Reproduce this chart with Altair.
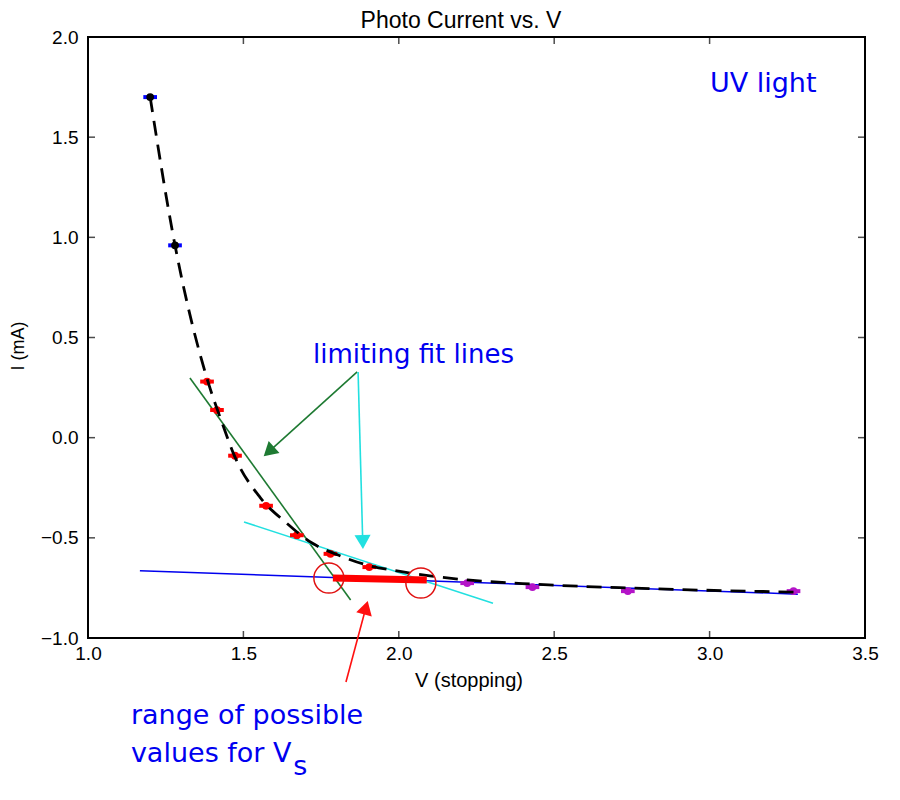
import altair as alt
import pandas as pd

# ---------------- data ----------------
blue_V = [1.20, 1.28]
blue_I = [1.70, 0.96]
red_V = [1.383, 1.415, 1.473, 1.573, 1.672, 1.780, 1.905]
red_I = [0.28, 0.138, -0.09, -0.34, -0.487, -0.58, -0.646]
purple_V = [2.22, 2.43, 2.737, 3.27]
purple_I = [-0.726, -0.746, -0.766, -0.766]
V_err = 0.022

curve_V = [1.20, 1.28, 1.39, 1.43, 1.473, 1.553, 1.634, 1.721, 1.805, 1.898, 2.004, 2.10, 2.22, 2.43, 2.75, 3.27]
curve_I = [1.70, 0.96, 0.26, 0.08, -0.097, -0.297, -0.42, -0.526, -0.586, -0.636, -0.668, -0.69, -0.71, -0.731, -0.751, -0.771]

green_fit_V = [1.328, 1.845]
green_fit_I = [0.298, -0.81]
cyan_fit_V = [1.502, 2.303]
cyan_fit_I = [-0.421, -0.826]
blue_fit_V = [1.167, 3.284]
blue_fit_I = [-0.664, -0.781]
range_V = [1.788, 2.09]
range_I = [-0.701, -0.711]
circle_V = [1.775, 2.071]
circle_I = [-0.701, -0.726]

# arrows: start point, head point, head angle
arrow_names = ["green", "cyan", "red"]
arrow_colors = ["#1e7a32", "#22e0e0", "#ff1010"]
arrow_start_V = [1.866, 1.869, 1.830]
arrow_start_I = [0.328, 0.328, -1.220]
arrow_head_V = [1.582, 1.884, 1.894]
arrow_head_I = [-0.070, -0.521, -0.849]
arrow_angle = [227.9, 178.4, 15.4]

x_ticks = [1.0, 1.5, 2.0, 2.5, 3.0, 3.5]
y_ticks = [-1.0, -0.5, 0.0, 0.5, 1.0, 1.5, 2.0]

W, H = 777, 601

xs = alt.Scale(domain=[1.0, 3.5], nice=False, zero=False)
ys = alt.Scale(domain=[-1.0, 2.0], nice=False, zero=False)
x_axis = alt.Axis(values=x_ticks, format=".1f", ticks=False, domain=False, grid=False,
                  labelFont="Liberation Sans", labelFontSize=19, labelColor="black",
                  labelPadding=6, labelFlush=False, labelOverlap=False, title=None)
y_axis = alt.Axis(values=y_ticks, format=".1f", ticks=False, domain=False, grid=False,
                  labelFont="Liberation Sans", labelFontSize=19, labelColor="black",
                  labelPadding=10, labelFlush=False, labelOverlap=False, title=None)


def X(f="x"):
    return alt.X(f"{f}:Q", scale=xs, axis=x_axis)


def Y(f="y"):
    return alt.Y(f"{f}:Q", scale=ys, axis=y_axis)


layers = []

# tick marks (inward, all four sides)
dxt = pd.DataFrame({"x": x_ticks})
dyt = pd.DataFrame({"y": y_ticks})
layers.append(alt.Chart(dxt).mark_tick(orient="vertical", size=7, thickness=1.5, color="black")
              .encode(x=X(), y=alt.value(H - 3.5)))
layers.append(alt.Chart(dxt).mark_tick(orient="vertical", size=7, thickness=1.5, color="black")
              .encode(x=X(), y=alt.value(3.5)))
layers.append(alt.Chart(dyt).mark_tick(orient="horizontal", size=7, thickness=1.5, color="black")
              .encode(y=Y(), x=alt.value(3.5)))
layers.append(alt.Chart(dyt).mark_tick(orient="horizontal", size=7, thickness=1.5, color="black")
              .encode(y=Y(), x=alt.value(W - 3.5)))

# fit lines
def seg(vs, is_, color, width):
    d = pd.DataFrame({"x": vs, "y": is_})
    return alt.Chart(d).mark_line(color=color, strokeWidth=width, strokeCap="butt").encode(x=X(), y=Y())

layers.append(seg(blue_fit_V, blue_fit_I, "#0000ee", 1.5))
layers.append(seg(green_fit_V, green_fit_I, "#1e7a32", 1.6))
layers.append(seg(cyan_fit_V, cyan_fit_I, "#22e0e0", 1.6))

# error bars and markers
def series(vs, is_, bar_color, dot_color, dot_size):
    d = pd.DataFrame({"x": vs, "y": is_})
    d["x0"] = d["x"] - V_err
    d["x1"] = d["x"] + V_err
    bars = alt.Chart(d).mark_rule(color=bar_color, strokeWidth=4).encode(
        x=X("x0"), x2="x1:Q", y=Y())
    dots = alt.Chart(d).mark_circle(color=dot_color, size=dot_size, opacity=1).encode(x=X(), y=Y())
    return [bars, dots]

layers += series(red_V, red_I, "#ff0000", "#ff0000", 60)
layers += series(purple_V, purple_I, "#b414c8", "#b414c8", 60)
layers += series(blue_V, blue_I, "#0000ff", "#000000", 60)

# dashed fit curve
dcurve = pd.DataFrame({"x": curve_V, "y": curve_I})
layers.append(alt.Chart(dcurve).mark_line(color="black", strokeWidth=2.8, strokeDash=[15, 9],
                                          interpolate="monotone").encode(x=X(), y=Y()))

# range bar and circles
layers.append(seg(range_V, range_I, "#ff0000", 7))
dcirc = pd.DataFrame({"x": circle_V, "y": circle_I})
layers.append(alt.Chart(dcirc).mark_point(shape="circle", size=900, filled=False, color="#e01010",
                                          strokeWidth=1.5, opacity=1).encode(x=X(), y=Y()))

# arrows
for n, c, sv, si, hv, hi, a in zip(arrow_names, arrow_colors, arrow_start_V, arrow_start_I,
                                   arrow_head_V, arrow_head_I, arrow_angle):
    d = pd.DataFrame({"x": [sv, hv], "y": [si, hi]})
    layers.append(alt.Chart(d).mark_line(color=c, strokeWidth=1.6).encode(x=X(), y=Y()))
    dh = pd.DataFrame({"x": [hv], "y": [hi]})
    layers.append(alt.Chart(dh).mark_point(shape="triangle-up", size=260, filled=True, color=c,
                                           opacity=1, angle=a).encode(x=X(), y=Y()))

# texts
def txt(s, v, i, font, size, color, align="left", angle=0):
    d = pd.DataFrame({"x": [v], "y": [i], "t": [s]})
    return alt.Chart(d).mark_text(font=font, fontSize=size, color=color, align=align,
                                  baseline="alphabetic", angle=angle).encode(
        x=X(), y=Y(), text="t:N")

BLUE = "#0000f0"
layers.append(txt("Photo Current vs. V", 2.200, 2.045, "Liberation Sans", 23, "black", "center"))
layers.append(txt("V (stopping)", 2.226, -1.245, "Liberation Sans", 20, "black", "center"))
layers.append(txt("I (mA)", 0.794, 0.457, "Liberation Sans", 18, "black", "center", 270))
layers.append(txt("UV light", 3.001, 1.725, "DejaVu Sans", 27, BLUE))
layers.append(txt("limiting fit lines", 1.724, 0.372, "DejaVu Sans", 26, BLUE))
layers.append(txt("range of possible", 1.138, -1.430, "DejaVu Sans", 27, BLUE))
layers.append(txt("values for V", 1.138, -1.620, "DejaVu Sans", 27, BLUE))
layers.append(txt("s", 1.660, -1.685, "DejaVu Sans", 27, BLUE))

chart = alt.layer(*layers).properties(
    width=W, height=H,
    autosize=alt.AutoSizeParams(type="none"),
    padding={"left": 80, "top": 29, "right": 27, "bottom": 162},
    background="white",
).configure_view(stroke="black", strokeWidth=2)

chart.save("out.html", embed_options={"renderer": "svg", "actions": False})
